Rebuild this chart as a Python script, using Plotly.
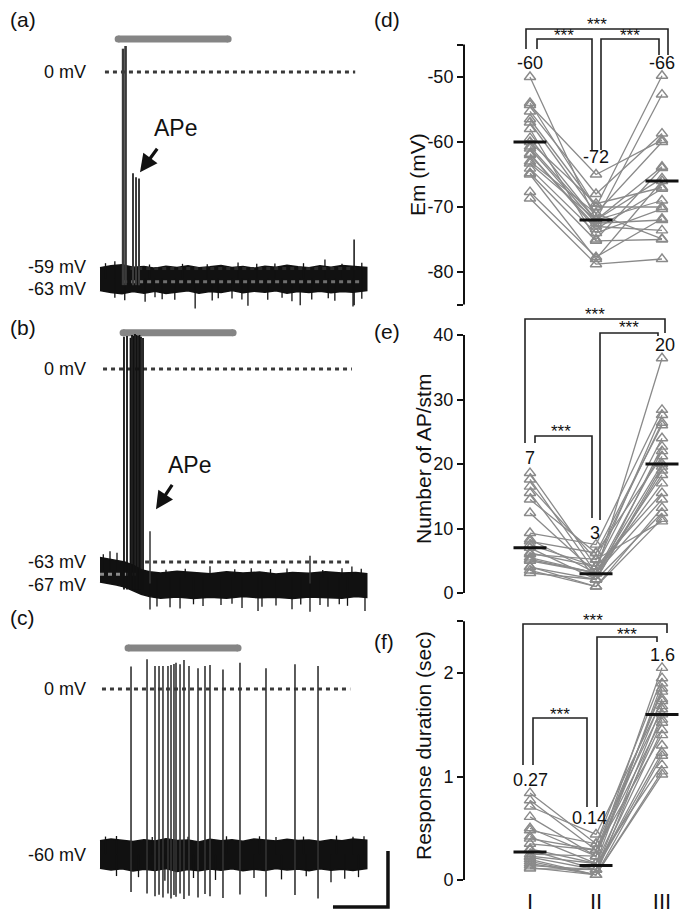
import plotly.graph_objects as go

W, H = 696, 923          # target window
OFF = 8                  # page body margin offset
WF, HF = W - OFF, H - OFF
FONT = "Liberation Sans, Arial, sans-serif"

# ======================= DATA =======================
# ---- (a) recording: time (s), potential (mV)
a_stim = [0.33, 2.33]
a_stim_level = 9.9
a_spike_t = [0.420, 0.465]
a_spike_peak = [7.0, 7.8]
a_ape_t = [0.600, 0.655, 0.709]
a_ape_peak = [-30.4, -31.6, -32.0]
a_late_t = [4.62]
a_late_peak = [-50.3]
a_band_t = [0.00, 0.20, 0.40, 0.60, 0.80, 1.00, 1.20, 1.40, 1.60, 1.80, 2.00, 2.20, 2.40,
            2.60, 2.80, 3.00, 3.20, 3.40, 3.60, 3.80, 4.00, 4.20, 4.40, 4.60, 4.85]
a_band_hi = [-58.8, -58.2, -57.9, -58.6, -58.4, -58.9, -58.3, -58.7, -58.2, -58.8, -58.5, -58.1, -58.7,
             -58.4, -58.9, -58.3, -58.6, -58.0, -58.5, -58.8, -58.2, -58.6, -58.1, -58.4, -58.7]
a_band_lo = [-65.6, -66.2, -66.6, -65.9, -66.4, -65.8, -66.5, -66.0, -65.7, -66.4, -65.9, -66.2, -65.6,
             -66.3, -65.8, -66.1, -65.7, -66.4, -65.9, -66.2, -65.8, -66.3, -65.9, -66.1, -65.6]
a_down_t = [0.27, 0.45, 0.82, 1.00, 1.13, 1.36, 1.73, 2.04, 2.15, 2.40, 2.58, 2.69, 3.05,
            3.31, 3.49, 3.64, 3.85, 4.15, 4.27, 4.60, 4.76]
a_down_v = [-67.8, -68.5, -69.0, -67.6, -68.2, -68.4, -71.0, -68.6, -67.9, -68.0, -68.3, -70.2, -68.4,
            -67.8, -68.8, -70.0, -68.3, -67.9, -68.7, -70.4, -68.1]
a_up_t = [0.10, 0.27, 0.90, 1.50, 1.95, 2.51, 2.85, 3.18, 3.70, 4.09, 4.40, 4.76]
a_up_v = [-57.4, -56.8, -57.8, -57.6, -57.7, -57.2, -57.6, -57.5, -57.4, -56.3, -57.6, -57.3]
a_levels = [0, -59, -63]

# ---- (b) recording
b_stim = [0.42, 2.42]
b_stim_level = 11.8
b_spike_t = [0.436, 0.491, 0.555, 0.582, 0.609, 0.636, 0.664, 0.691, 0.718, 0.745, 0.782]
b_spike_peak = [10.5, 10.8, 10.2, 11.1, 10.8, 11.4, 11.1, 10.8, 11.1, 10.5, 10.1]
b_ape_t = [0.909]
b_ape_peak = [-53.0]
b_late_t = [3.818]
b_late_peak = [-61.0]
b_band_t = [0.00, 0.15, 0.30, 0.45, 0.60, 0.75, 0.90, 1.10, 1.40, 1.70, 2.00, 2.30, 2.60,
            2.90, 3.20, 3.50, 3.80, 4.10, 4.40, 4.65, 4.85]
b_band_hi = [-61.5, -62.0, -62.3, -63.0, -64.0, -65.5, -66.2, -66.6, -66.0, -66.5, -66.8, -66.2, -66.6,
             -66.3, -66.9, -66.4, -66.7, -66.2, -66.6, -66.4, -66.8]
b_band_lo = [-69.5, -70.0, -70.5, -71.2, -72.4, -73.5, -74.3, -74.8, -74.4, -74.9, -74.5, -74.8, -74.3,
             -74.7, -74.5, -74.9, -74.4, -74.6, -74.8, -74.3, -74.6]
b_down_t = [0.909, 1.036, 1.273, 1.455, 1.70, 1.873, 2.20, 2.40, 2.582, 2.873, 2.945, 3.20,
            3.491, 3.65, 3.818, 4.00, 4.145, 4.35, 4.50, 4.818]
b_down_v = [-78.5, -77.5, -77.8, -78.2, -76.8, -77.4, -77.0, -76.6, -78.0, -79.0, -77.6, -77.2,
            -78.4, -76.9, -79.2, -77.0, -77.6, -76.8, -77.3, -79.0]
b_up_t = [0.06, 0.182, 0.309, 1.20, 1.55, 2.00, 2.45, 2.75, 3.10, 3.40, 4.05, 4.40, 4.58, 4.75]
b_up_v = [-60.5, -59.5, -60.0, -65.5, -65.2, -64.4, -65.4, -65.0, -65.3, -65.1, -65.6, -65.0, -64.5, -65.2]
b_levels = [0, -63, -67]

# ---- (c) recording
c_stim = [0.51, 2.51]
c_stim_level = 14.6
c_spike_t = [0.564, 0.855, 1.000, 1.073, 1.145, 1.236, 1.291, 1.345, 1.382, 1.455, 1.527,
             1.618, 1.782, 1.909, 2.000, 2.236, 2.545, 3.018, 3.545, 3.964]
c_spike_peak = [8.0, 10.6, 8.2, 8.2, 8.2, 8.2, 8.6, 8.9, 9.4, 8.8, 10.4,
                8.2, 7.4, 8.2, 8.6, 7.0, 9.4, 7.4, 8.8, 8.2]
c_spike_trough = [-72.5, -73.0, -74.0, -73.5, -74.5, -73.0, -74.8, -73.6, -74.2, -73.0, -75.0,
                  -73.8, -74.5, -73.2, -74.0, -74.6, -73.4, -74.2, -73.6, -74.8]
c_band_t = [0.00, 0.20, 0.40, 0.60, 0.80, 1.00, 1.20, 1.40, 1.60, 1.80, 2.00, 2.20, 2.40,
            2.60, 2.80, 3.00, 3.20, 3.40, 3.60, 3.80, 4.00, 4.20, 4.40, 4.60, 4.85]
c_band_hi = [-54.2, -53.6, -54.0, -54.5, -53.8, -54.3, -53.5, -54.1, -53.9, -54.6, -53.7, -54.2, -53.8,
             -54.4, -53.6, -54.0, -54.3, -53.7, -54.1, -53.9, -54.5, -53.8, -54.2, -53.6, -54.0]
c_band_lo = [-64.0, -64.6, -64.2, -65.0, -64.4, -64.8, -64.1, -65.2, -64.5, -64.9, -64.3, -64.7, -64.2,
             -64.9, -64.4, -64.8, -64.1, -64.6, -64.3, -64.9, -64.2, -64.7, -64.4, -64.8, -64.1]
c_down_t = [0.30, 0.70, 1.18, 1.70, 2.10, 2.80, 3.30, 3.75, 4.20, 4.45, 4.70]
c_down_v = [-66.8, -67.2, -68.5, -67.5, -68.2, -67.5, -68.0, -66.9, -69.0, -67.8, -67.2]
c_up_t = [0.10, 0.30, 0.95, 1.60, 2.30, 2.90, 3.20, 3.70, 4.30, 4.60, 4.80]
c_up_v = [-52.7, -52.5, -52.9, -52.8, -52.6, -52.6, -52.9, -52.7, -52.4, -52.8, -52.6]
c_levels = [0, -60]
scale_mV = 20
scale_s = 1.0

# ---- (d)-(f) paired data: groups I, II, III
groups = ["I", "II", "III"]
em_I = [-50, -54, -54.3, -55.3, -57, -59.4, -60.7, -61.8, -63.3, -64.1,
        -64.8, -67.7, -68.7, -60, -62, -63, -65, -56.5, -61, -58]
em_II = [-72, -70, -65, -68, -71, -72, -72, -73.4, -72, -74,
         -75.2, -77.7, -78.8, -69.5, -73, -71, -78, -70, -72.5, -75]
em_III = [-52.7, -49.8, -59.7, -58.7, -60, -63.8, -65.6, -67.2, -69, -70.3,
          -75, -71.8, -78, -67, -73.6, -74.9, -66, -70, -72, -64]
em_mean = [-60, -72, -66]

ap_I = [18.6, 17.6, 16.5, 15.5, 14.5, 12.4, 9.3, 8.3, 7, 6.2,
        5.2, 4.1, 3.1, 6, 5, 4, 7.5, 3.5, 8, 5.5]
ap_II = [4.1, 3.1, 5.2, 2.1, 6.2, 3.1, 7.5, 3.1, 2.1, 4.1,
         3.1, 1, 2.1, 5.2, 3.1, 2.1, 4.1, 1, 6.2, 3.1]
ap_III = [27.6, 22, 26.4, 19.6, 21.2, 18.3, 28.4, 36.4, 22.7, 15.5,
          14.5, 13.2, 12.4, 11.1, 20, 19, 24, 11.5, 26, 17]
ap_mean = [7, 3, 20]

rd_I = [0.84, 0.77, 0.71, 0.61, 0.48, 0.42, 0.35, 0.29, 0.23, 0.16,
        0.11, 0.20, 0.25, 0.14, 0.30, 0.18, 0.40, 0.12, 0.50, 0.22]
rd_II = [0.35, 0.29, 0.44, 0.23, 0.35, 0.16, 0.29, 0.10, 0.16, 0.05,
         0.10, 0.05, 0.23, 0.10, 0.16, 0.05, 0.29, 0.05, 0.23, 0.10]
rd_III = [1.95, 1.82, 1.73, 2.05, 1.65, 1.52, 1.40, 1.23, 1.11, 1.02,
          1.30, 1.60, 1.75, 1.45, 1.90, 1.20, 1.55, 1.05, 1.85, 1.68]
rd_mean = [0.27, 0.14, 1.6]
mean_labels_d = ["-60", "-72", "-66"]
mean_labels_e = ["7", "3", "20"]
mean_labels_f = ["0.27", "0.14", "1.6"]

# ======================= LAYOUT HELPERS =======================
def ymap(p_a, v_a, p_b, v_b, p_top, p_bot):
    k = (v_b - v_a) / (p_b - p_a)
    f = lambda p: v_a + (p - p_a) * k
    return dict(domain=[1 - (p_bot - OFF) / HF, 1 - (p_top - OFF) / HF], range=[f(p_bot), f(p_top)]), f

def xmap(p_a, v_a, p_b, v_b, p_l, p_r):
    k = (v_b - v_a) / (p_b - p_a)
    f = lambda p: v_a + (p - p_a) * k
    return dict(domain=[(p_l - OFF) / WF, (p_r - OFF) / WF], range=[f(p_l), f(p_r)]), f

def segs(xs, y0s, y1s):
    X, Y = [], []
    for x, a, b in zip(xs, y0s, y1s):
        X += [x, x, None]
        Y += [a, b, None]
    return X, Y

fig = go.Figure()
BLACK = "#111111"
GRAY = "#8a8a8a"

left_x, _ = xmap(100, 0.0, 155, 1.0, 95, 398)
ya, _ = ymap(72, 0, 268.5, -59, 28, 314)
yb, _ = ymap(369, 0, 562, -63, 320, 614)
yc, _ = ymap(689, 0, 857, -60, 638, 918)

def add_recording(n, stim, stim_level, band_t, hi, lo, down_t, down_v, up_t, up_v, mid):
    xa, ya_ = ("x%d" % n, "y%d" % n) if n > 1 else ("x", "y")
    fig.add_trace(go.Scatter(x=band_t + band_t[::-1], y=hi + lo[::-1], fill="toself",
                             fillcolor=BLACK, mode="lines", line=dict(color=BLACK, width=1.5),
                             xaxis=xa, yaxis=ya_, hoverinfo="skip"))
    X, Y = segs(down_t, [mid] * len(down_t), down_v)
    X2, Y2 = segs(up_t, [mid] * len(up_t), up_v)
    fig.add_trace(go.Scatter(x=X + X2, y=Y + Y2, mode="lines", line=dict(color=BLACK, width=1.3),
                             xaxis=xa, yaxis=ya_, hoverinfo="skip"))
    fig.add_trace(go.Scatter(x=stim, y=[stim_level, stim_level], mode="lines+markers",
                             line=dict(color="#858585", width=7), marker=dict(size=7, color="#858585"),
                             xaxis=xa, yaxis=ya_, hoverinfo="skip"))
    return xa, ya_

def add_dotted(xa, ya_, t0, t1, v, color):
    fig.add_trace(go.Scatter(x=[t0, t1], y=[v, v], mode="lines",
                             line=dict(color=color, width=3, dash="4px,4px"),
                             xaxis=xa, yaxis=ya_, hoverinfo="skip"))

def add_spikes(xa, ya_, ts, bases, peaks, color, width):
    X, Y = segs(ts, bases, peaks)
    fig.add_trace(go.Scatter(x=X, y=Y, mode="lines", line=dict(color=color, width=width),
                             xaxis=xa, yaxis=ya_, hoverinfo="skip"))

# (a)
xa1, ya1 = add_recording(1, a_stim, a_stim_level, a_band_t, a_band_hi, a_band_lo,
                         a_down_t, a_down_v, a_up_t, a_up_v, -62)
add_dotted(xa1, ya1, 0.09, 4.64, a_levels[0], "#3a3a3a")
add_dotted(xa1, ya1, 0.55, 4.64, a_levels[1], "#2a2a2a")
add_dotted(xa1, ya1, 0.42, 4.73, a_levels[2], "#6e6e6e")
add_spikes(xa1, ya1, a_spike_t, [-64] * 2, a_spike_peak, "#3a3a3a", 2.6)
add_spikes(xa1, ya1, a_ape_t, [-64] * 3, a_ape_peak, "#3a3a3a", 2.0)
add_spikes(xa1, ya1, a_late_t, [-70] * 1, a_late_peak, BLACK, 1.5)

# (b)
xa2, ya2 = add_recording(2, b_stim, b_stim_level, b_band_t, b_band_hi, b_band_lo,
                         b_down_t, b_down_v, b_up_t, b_up_v, -68)
add_dotted(xa2, ya2, 0.055, 4.58, b_levels[0], "#3a3a3a")
add_dotted(xa2, ya2, 0.82, 4.58, b_levels[1], "#3a3a3a")
add_dotted(xa2, ya2, 0.0, 0.72, b_levels[2], "#8a8a8a")
add_spikes(xa2, ya2, b_spike_t, [-72] * len(b_spike_t), b_spike_peak, BLACK, 1.8)
add_spikes(xa2, ya2, b_ape_t + b_late_t, [-70, -70], b_ape_peak + b_late_peak, "#333333", 1.5)

# (c)
xa3, ya3 = add_recording(3, c_stim, c_stim_level, c_band_t, c_band_hi, c_band_lo,
                         c_down_t, c_down_v, c_up_t, c_up_v, -59)
add_dotted(xa3, ya3, 0.036, 4.55, c_levels[0], "#3a3a3a")
add_spikes(xa3, ya3, c_spike_t, c_spike_trough, c_spike_peak, "#333333", 1.6)
sb_t1 = 5.236
sb_v0 = -77.9
fig.add_trace(go.Scatter(x=[sb_t1 - scale_s, sb_t1, sb_t1], y=[sb_v0, sb_v0, sb_v0 + scale_mV],
                         mode="lines", line=dict(color=BLACK, width=3.5),
                         xaxis=xa3, yaxis=ya3, hoverinfo="skip"))

# ---------------- right panels ----------------
right_x, cx = xmap(530, 0, 596, 1, 464, 694)
yd, fd = ymap(77, -50, 272, -80, 16, 306)
ye, fe = ymap(593, 0, 335, 40, 305, 600)
yf, ff = ymap(880, 0, 673, 2, 612, 886)

def add_paired(n, I, II, III, means):
    xa, ya_ = "x%d" % n, "y%d" % n
    X, Y = [], []
    for a, b, c in zip(I, II, III):
        X += [0, 1, 2, None]
        Y += [a, b, c, None]
    fig.add_trace(go.Scatter(x=X, y=Y, mode="lines", line=dict(color=GRAY, width=1.3),
                             xaxis=xa, yaxis=ya_, hoverinfo="skip"))
    fig.add_trace(go.Scatter(x=[0] * len(I) + [1] * len(II) + [2] * len(III), y=I + II + III,
                             mode="markers", cliponaxis=False,
                             marker=dict(symbol="triangle-up-open", size=10, color=GRAY,
                                         line=dict(width=1.4, color=GRAY)),
                             xaxis=xa, yaxis=ya_, hoverinfo="skip"))
    MX, MY = [], []
    for i, m in enumerate(means):
        MX += [i - 0.25, i + 0.25, None]
        MY += [m, m, None]
    fig.add_trace(go.Scatter(x=MX, y=MY, mode="lines", line=dict(color=BLACK, width=3),
                             xaxis=xa, yaxis=ya_, hoverinfo="skip"))
    return xa, ya_

def add_brackets(xa, ya_, fy, brs, stars):
    # brs: (px_left, px_right, py_top, py_left_end, py_right_end) in window pixels
    X, Y = [], []
    for pl, pr, pt, ple, pre in brs:
        X += [cx(pl), cx(pl), cx(pr), cx(pr), None]
        Y += [fy(ple), fy(pt), fy(pt), fy(pre), None]
    fig.add_trace(go.Scatter(x=X, y=Y, mode="lines", line=dict(color="#222222", width=1.6),
                             xaxis=xa, yaxis=ya_, hoverinfo="skip"))
    for px, py in stars:
        fig.add_annotation(x=cx(px), y=fy(py), xref=xa, yref=ya_, text="***", showarrow=False,
                           font=dict(size=17, color=BLACK, family=FONT))

xd, ydn = add_paired(4, em_I, em_II, em_III, em_mean)
add_brackets(xd, ydn, fd,
             [(526, 668, 29, 49, 55), (537, 592, 39, 49, 150), (601, 659, 39, 150, 55)],
             [(597, 25), (564, 36), (630, 36)])
xe, yen = add_paired(5, ap_I, ap_II, ap_III, ap_mean)
add_brackets(xe, yen, fe,
             [(525, 665, 319, 443, 333), (535, 592, 436, 443, 518), (600, 658, 333, 520, 336)],
             [(595, 315), (561, 432), (629, 328)])
xf, yfn = add_paired(6, rd_I, rd_II, rd_III, rd_mean)
add_brackets(xf, yfn, ff,
             [(523, 667, 624, 765, 633), (533, 587, 718, 765, 807), (597, 657, 637, 807, 642)],
             [(593, 620), (560, 714), (627, 634)])

for xa, ya_, labs, fy, pos in [
        (xd, ydn, mean_labels_d, fd, [(530, 63), (596, 157), (662, 63)]),
        (xe, yen, mean_labels_e, fe, [(530, 458), (595, 533), (665, 345)]),
        (xf, yfn, mean_labels_f, ff, [(530, 780), (589, 818), (662, 655)])]:
    for lab, (px, py) in zip(labs, pos):
        fig.add_annotation(x=cx(px), y=fy(py), xref=xa, yref=ya_, text=lab, showarrow=False,
                           font=dict(size=18, color=BLACK, family=FONT))

for n, lo, hi in [(4, -85, -45), (5, 0, 40), (6, 0, 2.5)]:
    fig.add_shape(type="line", xref="x%d domain" % n, yref="y%d" % n, x0=0, x1=0, y0=lo, y1=hi,
                  line=dict(color=BLACK, width=2))

# ---------------- axes ----------------
hidden = dict(visible=False, showgrid=False, zeroline=False, fixedrange=True)
layout = {}
for n, ydict in [(1, ya), (2, yb), (3, yc)]:
    sx = "" if n == 1 else str(n)
    layout["xaxis" + sx] = dict(hidden, domain=left_x["domain"], range=left_x["range"], anchor="y" + sx)
    layout["yaxis" + sx] = dict(hidden, domain=ydict["domain"], range=ydict["range"], anchor="x" + sx)

ytick_common = dict(showgrid=False, zeroline=False, showline=False, ticks="outside", ticklen=6,
                    tickwidth=2, tickcolor=BLACK, tickfont=dict(size=18, color=BLACK, family=FONT))
layout["yaxis4"] = dict(ytick_common, domain=yd["domain"], range=yd["range"], anchor="x4",
                        tickvals=[-85, -80, -70, -60, -50, -45], ticktext=["", "-80", "-70", "-60", "-50", ""])
layout["yaxis5"] = dict(ytick_common, domain=ye["domain"], range=ye["range"], anchor="x5",
                        tickvals=[0, 10, 20, 30, 40], ticktext=["0", "10", "20", "30", "40"])
layout["yaxis6"] = dict(ytick_common, domain=yf["domain"], range=yf["range"], anchor="x6",
                        tickvals=[0, 1, 2, 2.5], ticktext=["0", "1", "2", ""])
for n in (4, 5):
    layout["xaxis%d" % n] = dict(domain=right_x["domain"], range=right_x["range"], anchor="y%d" % n,
                                 showgrid=False, zeroline=False, showline=False, showticklabels=False,
                                 ticks="")
layout["xaxis6"] = dict(domain=right_x["domain"], range=right_x["range"], anchor="y6",
                        showgrid=False, zeroline=False, showline=False, ticks="",
                        tickvals=[0, 1, 2], ticktext=groups,
                        tickfont=dict(size=22, color=BLACK, family=FONT))

fig.update_layout(width=WF, height=HF, margin=dict(l=0, r=0, t=0, b=0, autoexpand=False),
                  showlegend=False, paper_bgcolor="white", plot_bgcolor="rgba(0,0,0,0)",
                  font=dict(family=FONT, color=BLACK), **layout)

# ---------------- text annotations ----------------
def ann_px(text, px, py, size, xanchor="center", angle=0):
    fig.add_annotation(x=(px - OFF) / WF, y=1 - (py - OFF) / HF, xref="paper", yref="paper", text=text,
                       showarrow=False, xanchor=xanchor, yanchor="middle", textangle=angle,
                       font=dict(size=size, color=BLACK, family=FONT))

for lab, py in [("(a)", 19), ("(b)", 328), ("(c)", 617)]:
    ann_px(lab, 8, py, 21, "left")
for lab, py in [("(d)", 19), ("(e)", 331), ("(f)", 641)]:
    ann_px(lab, 372, py, 21, "left")

ann_px("Em (mV)", 417, 174, 21, angle=-90)
ann_px("Number of AP/stm", 423, 459, 21, angle=-90)
ann_px("Response duration (sec)", 423, 746, 21, angle=-90)

for xa, ya_, items in [(xa1, ya1, [("0 mV", 0), ("-59 mV", -58.6), ("-63 mV", -65.3)]),
                       (xa2, ya2, [("0 mV", 0), ("-63 mV", -63.0), ("-67 mV", -70.5)]),
                       (xa3, ya3, [("0 mV", 0), ("-60 mV", -59.3)])]:
    for txt, v in items:
        fig.add_annotation(x=(88 - OFF) / WF, y=v, xref="paper", yref=ya_, text=txt, showarrow=False,
                           xanchor="right", yanchor="middle", font=dict(size=18, color=BLACK, family=FONT))

for xa, ya_, txt_pos, head, tail in [(xa1, ya1, (1.364, -16.9), (0.727, -30.1), (1.06, -22.6)),
                                     (xa2, ya2, (1.636, -31.4), (1.018, -45.8), (1.33, -37.3))]:
    fig.add_annotation(x=txt_pos[0], y=txt_pos[1], xref=xa, yref=ya_, text="APe", showarrow=False,
                       font=dict(size=23, color=BLACK, family=FONT))
    fig.add_annotation(x=head[0], y=head[1], xref=xa, yref=ya_, ax=tail[0], ay=tail[1],
                       axref=xa, ayref=ya_, text="", showarrow=True, arrowhead=2, arrowsize=1.1,
                       arrowwidth=3.2, arrowcolor=BLACK, standoff=0)

fig.write_html("out.html")
